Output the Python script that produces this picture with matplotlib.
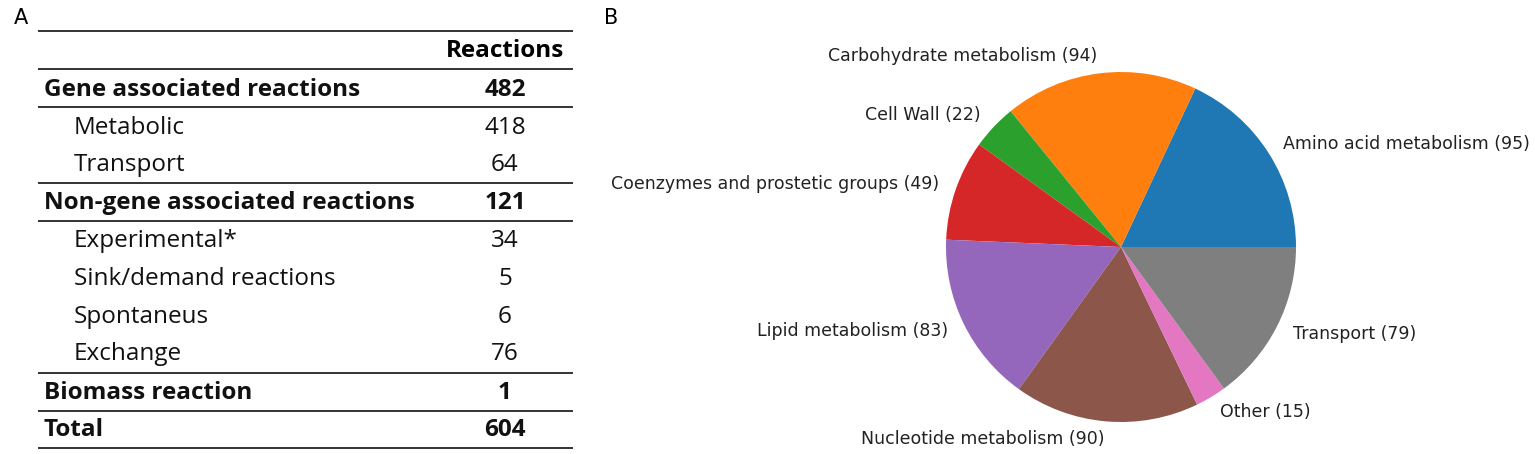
import numpy as np
import matplotlib
matplotlib.use('Agg')
import matplotlib.pyplot as plt

# Panel A: reaction table
table_rows = ["Gene associated reactions", "Metabolic", "Transport",
              "Non-gene associated reactions", "Experimental*",
              "Sink/demand reactions", "Spontaneus", "Exchange",
              "Biomass reaction", "Total"]
table_counts = [482, 418, 64, 121, 34, 5, 6, 76, 1, 604]
row_bold = [True, False, False, True, False, False, False, False, True, True]
table_header = "Reactions"

# Panel B: pie of metabolic subsystems
categories = ["Amino acid metabolism", "Carbohydrate metabolism", "Cell Wall",
              "Coenzymes and prostetic groups", "Lipid metabolism",
              "Nucleotide metabolism", "Other", "Transport"]
counts = [95, 94, 22, 49, 83, 90, 15, 79]

W, H = 1535, 454
fig = plt.figure(figsize=(W / 100, H / 100), dpi=100)

# full-figure axes in pixel coordinates for the table
ax_t = fig.add_axes([0, 0, 1, 1])
ax_t.set_xlim(0, W)
ax_t.set_ylim(H, 0)
ax_t.axis('off')

tfont = 'Open Sans'
fs = 17.5
x_left, x_right = 38, 573
x_bold, x_indent, x_num = 44, 74, 505
row_y = [90, 128, 165, 203, 241, 279, 317, 354, 393, 430]
header_y = 51

ax_t.text(14, 18, "A", fontsize=15, family='DejaVu Sans', va='center', ha='left')
ax_t.text(604, 18, "B", fontsize=15, family='DejaVu Sans', va='center', ha='left')

ax_t.text(x_num, header_y, table_header, fontsize=fs, family=tfont,
          fontweight='bold', ha='center', va='center')
for name, n, b, y in zip(table_rows, table_counts, row_bold, row_y):
    ax_t.text(x_bold if b else x_indent, y, name, fontsize=fs, family=tfont,
              fontweight='bold' if b else 'normal', ha='left', va='center',
              color='#111111')
    ax_t.text(x_num, y, str(n), fontsize=fs, family=tfont,
              fontweight='bold' if b else 'normal', ha='center', va='center',
              color='#111111')

# horizontal rules
for y in [31, 69, 107, 183, 221, 373, 411, 448]:
    ax_t.plot([x_left, x_right], [y, y], color='#333333', lw=1.4,
              solid_capstyle='butt')

# pie axes, centred at (1121, 247) px, radius ~175 px
r_px = 175
cx, cy = 1121, 247
side = 2.5 * r_px
ax_p = fig.add_axes([(cx - side / 2) / W, (H - cy - side / 2) / H,
                     side / W, side / H])
labels = [f"{c} ({n})" for c, n in zip(categories, counts)]
colors = [f"C{i}" for i in range(len(counts))]
ax_p.pie(counts, labels=labels, colors=colors, startangle=0,
         textprops=dict(fontsize=12.5, color='#222222', family='DejaVu Sans'))
ax_p.set_xlim(-1.25, 1.25)
ax_p.set_ylim(-1.25, 1.25)

fig.savefig('out.png', dpi=100)
